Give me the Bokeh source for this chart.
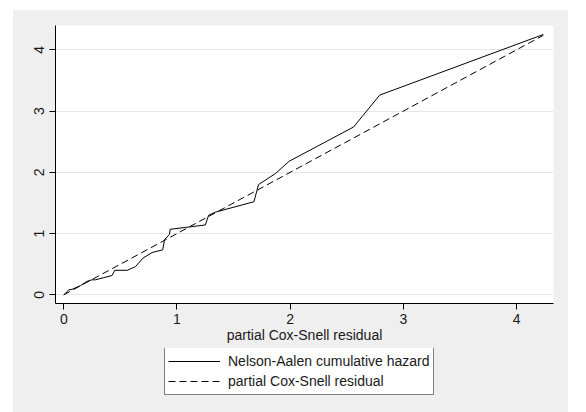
from bokeh.plotting import figure
from bokeh.layouts import column
from bokeh.models import Legend, LegendItem, FixedTicker, Range1d
from bokeh.embed import file_html
from bokeh.resources import INLINE

# Nelson-Aalen cumulative hazard of the partial Cox-Snell residuals
na_x = [0, 0.044, 0.074, 0.147, 0.206, 0.25, 0.28, 0.427, 0.45, 0.56, 0.633,
        0.70, 0.78, 0.874, 0.89, 0.933, 0.94, 1.074, 1.25, 1.28, 1.34, 1.68,
        1.72, 1.87, 1.99, 2.56, 2.79, 4.236]
na_y = [0, 0.08, 0.09, 0.15, 0.22, 0.245, 0.245, 0.315, 0.40, 0.40, 0.46,
        0.60, 0.69, 0.735, 0.90, 0.985, 1.07, 1.10, 1.14, 1.30, 1.35, 1.52,
        1.80, 1.98, 2.18, 2.74, 3.26, 4.25]
# reference line: partial Cox-Snell residual against itself
cs = [0, 4.236]

x_ticks = [0, 1, 2, 3, 4]
y_ticks = [0, 1, 2, 3, 4]
x_title = "partial Cox-Snell residual"
legend_labels = ["Nelson-Aalen cumulative hazard", "partial Cox-Snell residual"]

FONT = "Liberation Sans"
BG = "#efefef"
XR = (-0.0733, 4.326)
YR = (-0.142, 4.397)

p = figure(frame_width=498, frame_height=278, output_backend="svg",
           toolbar_location=None,
           x_range=Range1d(*XR), y_range=Range1d(*YR),
           min_border_left=42, min_border_right=15, min_border_top=15,
           min_border_bottom=45)
p.background_fill_color = "white"
p.border_fill_color = BG
p.outline_line_color = None

p.line(na_x, na_y, line_color="black", line_width=1)
p.line(cs, cs, line_color="black", line_width=1, line_dash="7 4")

for ax in (p.xaxis[0], p.yaxis[0]):
    ax.axis_line_color = "black"
    ax.axis_line_width = 1
    ax.major_tick_out = 6
    ax.major_tick_in = 0
    ax.minor_tick_out = 0
    ax.minor_tick_in = 0
    ax.major_tick_line_color = "black"
    ax.major_label_text_font = FONT
    ax.major_label_text_font_size = "14px"
    ax.major_label_text_color = "#1a1a1a"
    ax.major_label_standoff = 4

p.xaxis.ticker = FixedTicker(ticks=x_ticks)
p.yaxis.ticker = FixedTicker(ticks=y_ticks)
p.yaxis.major_label_orientation = "vertical"
p.yaxis.major_label_standoff = 5
p.xaxis.axis_label = x_title
p.xaxis.axis_label_text_font = FONT
p.xaxis.axis_label_text_font_size = "14px"
p.xaxis.axis_label_text_font_style = "normal"
p.xaxis.axis_label_text_color = "#1a1a1a"
p.xaxis.axis_label_standoff = 0

p.xgrid.grid_line_color = None
p.ygrid.ticker = FixedTicker(ticks=y_ticks)
p.ygrid.grid_line_color = "#e6e6e6"
p.ygrid.grid_line_width = 1

# legend panel below the plot (same gray background)
lg = figure(frame_width=555, frame_height=64, output_backend="svg",
            toolbar_location=None, x_range=Range1d(*XR), y_range=Range1d(*YR),
            min_border=0, x_axis_type=None, y_axis_type=None)
lg.background_fill_color = BG
lg.border_fill_color = BG
lg.outline_line_color = None
lg.xgrid.visible = False
lg.ygrid.visible = False
k1 = lg.line(na_x, na_y, line_color="black", line_width=1, visible=False)
k2 = lg.line(cs, cs, line_color="black", line_width=1, line_dash="7 4",
             visible=False)

legend = Legend(items=[LegendItem(label=legend_labels[0], renderers=[k1]),
                       LegendItem(label=legend_labels[1], renderers=[k2])],
                location=(151, 17), orientation="vertical",
                glyph_width=52, glyph_height=20, label_height=20,
                label_standoff=8, spacing=0, padding=3, margin=0,
                label_text_font=FONT, label_text_font_size="14px",
                label_text_color="#1a1a1a",
                border_line_color="black", border_line_width=1,
                background_fill_color="white", background_fill_alpha=1,
                inactive_fill_alpha=0)
lg.add_layout(legend, "center")

layout = column(p, lg, spacing=0)
layout.margin = (10, 18, 0, 13)
layout.styles = {"background-color": BG}

open("out.html", "w").write(file_html(layout, INLINE))
